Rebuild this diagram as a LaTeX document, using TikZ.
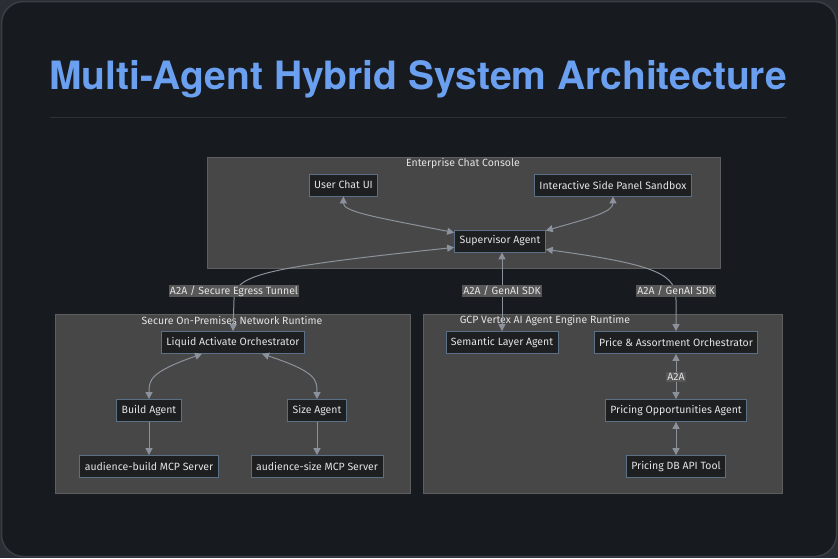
\documentclass[tikz,border=0pt]{standalone}
\usepackage{fontspec}
\setmainfont{Fira Sans}
\newfontfamily\headfont{TeX Gyre Heros}
\usetikzlibrary{arrows.meta,calc}

\definecolor{pagebg}{HTML}{2A2D33}
\definecolor{cardbg}{HTML}{171A1F}
\definecolor{cardline}{HTML}{3A3E45}
\definecolor{titleblue}{HTML}{6AA0EF}
\definecolor{sepline}{HTML}{2C3037}
\definecolor{zonefill}{HTML}{474747}
\definecolor{zoneline}{HTML}{5E5E5E}
\definecolor{nodefill}{HTML}{1E1F20}
\definecolor{nodeline}{HTML}{5B7087}
\definecolor{nodetext}{HTML}{E4E4E4}
\definecolor{edgecol}{HTML}{8B929C}
\definecolor{lblfill}{HTML}{575757}

\begin{document}
\begin{tikzpicture}[x=1pt,y=-1pt,
    box/.style={draw=nodeline,fill=nodefill,text=nodetext,line width=0.8pt,
      font=\fontsize{10.5}{12}\selectfont,minimum height=22pt,inner xsep=5pt},
    zone/.style={draw=zoneline,fill=zonefill,line width=0.8pt},
    zonetitle/.style={text=nodetext,font=\fontsize{10.5}{12}\selectfont,inner sep=0pt},
    link/.style={draw=edgecol,line width=1pt},
    lbl/.style={fill=lblfill,text=nodetext,font=\fontsize{10.5}{12}\selectfont,inner sep=1pt},
    tip/.style={-{Triangle[length=7pt,width=7pt]}},
    both/.style={{Triangle[length=7pt,width=7pt]}-{Triangle[length=7pt,width=7pt]}}]

        % card and heading
        \fill[pagebg] (0,0) rectangle (838,558);
        \draw[fill=cardbg,draw=cardline,line width=1.5pt,rounded corners=22pt] (1.5,1.5) rectangle (836.5,556.5);
        \node[anchor=base,text=titleblue,font=\headfont\bfseries\fontsize{39}{45}\selectfont] (title) at (418,89) {Multi-Agent Hybrid System Architecture};
        \draw[sepline,line width=1pt] (50,117) -- (786,117);

        % zones
        \draw[zone] (207,157) rectangle (720,268);
        \draw[zone] (55,314) rectangle (410,493);
        \draw[zone] (423,314) rectangle (782,493);
        \node[zonetitle] (zchat) at (463,163.5) {Enterprise Chat Console};
        \node[zonetitle] (zprem) at (232,320.5) {Secure On-Premises Network Runtime};
        \node[zonetitle] (zgcp) at (545,320.5) {GCP Vertex AI Agent Engine Runtime};

        % nodes
        \node[box] (ui) at (343.5,185) {User Chat UI};
        \node[box] (panel) at (613,185) {Interactive Side Panel Sandbox};
        \node[box] (sup) at (500,241) {Supervisor Agent};
        \node[box] (lao) at (233,342.5) {Liquid Activate Orchestrator};
        \node[box] (build) at (149,410.5) {Build Agent};
        \node[box] (size) at (317,410.5) {Size Agent};
        \node[box] (abuild) at (149,466.5) {audience-build MCP Server};
        \node[box] (asize) at (317,466.5) {audience-size MCP Server};
        \node[box] (sem) at (502,342.5) {Semantic Layer Agent};
        \node[box] (pao) at (676,342.5) {Price \& Assortment Orchestrator};
        \node[box] (poa) at (676,410.5) {Pricing Opportunities Agent};
        \node[box] (db) at (676,466.5) {Pricing DB API Tool};

        % connectors
        \draw[link,both] (ui.south) .. controls (343,212) and (380,218) .. ($(sup.north west)+(0,3)$);
        \draw[link,both] (panel.south) .. controls (613,212) and (590,218) .. ($(sup.north east)+(0,1)$);
        \draw[link,both] ($(sup.south west)+(0,-5)$) .. controls (260,268) and (234,275) .. (234,300) -- (lao.north);
        \draw[link,both] (sup.south -| sem.north) -- (sem.north);
        \draw[link,both] ($(sup.south east)+(0,-3)$) .. controls (660,265) and (676,275) .. (676,300) -- (pao.north);
        \draw[link,both] ($(lao.south)+(-31,0)$) .. controls (150,372) and (149,380) .. (build.north);
        \draw[link,both] ($(lao.south)+(29,0)$) .. controls (317,372) and (317,380) .. (size.north);
        \draw[link,tip] (build) -- (abuild);
        \draw[link,tip] (size) -- (asize);
        \draw[link,both] (pao) -- (poa);
        \draw[link,both] (poa) -- (db);

        % labels
        \node[lbl] (ltunnel) at (234,291) {A2A / Secure Egress Tunnel};
        \node[lbl] (lsdka) at (502,291) {A2A / GenAI SDK};
        \node[lbl] (lsdkb) at (676,291) {A2A / GenAI SDK};
        \node[lbl] (la2a) at (676,377) {A2A};
    \end{tikzpicture}
\end{document}
